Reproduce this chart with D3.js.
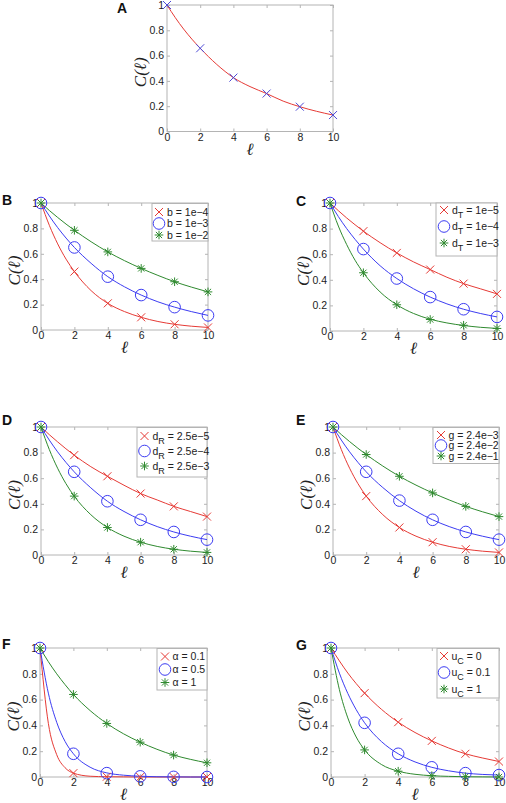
<!DOCTYPE html>
<html><head><meta charset="utf-8">
<script src="https://cdn.jsdelivr.net/npm/d3@7"></script>
<style>body{margin:0;background:#fff}svg{display:block}</style>
</head><body><svg id="c" width="506" height="803"></svg>
<script>
// ---------- data ----------
const xTicks = [0, 2, 4, 6, 8, 10];
const yTicks = [0, 0.2, 0.4, 0.6, 0.8, 1];
const yTickLabels = ["0", "0.2", "0.4", "0.6", "0.8", "1"];
const markL = [0, 2, 4, 6, 8, 10];
const lineL = [0, 0.5, 1, 1.5, 2, 3, 4, 5, 6, 7, 8, 9, 10];

const aMarks = [1, 0.658, 0.426, 0.30, 0.196, 0.13];
const aLine  = [1, 0.9, 0.81, 0.73, 0.658, 0.53, 0.426, 0.355, 0.30, 0.24, 0.196, 0.16, 0.13];

const bRedMarks   = [1, 0.46, 0.21, 0.10, 0.045, 0.02];
const bBlueMarks  = [1, 0.65, 0.42, 0.275, 0.18, 0.115];
const bGreenMarks = [1, 0.785, 0.615, 0.485, 0.38, 0.30];
const bRedLine    = [1, 0.824, 0.678, 0.558, 0.46, 0.31, 0.21, 0.145, 0.10, 0.067, 0.045, 0.03, 0.02];
const bBlueLine   = [1, 0.898, 0.806, 0.724, 0.65, 0.525, 0.42, 0.34, 0.275, 0.222, 0.18, 0.145, 0.115];
const bGreenLine  = [1, 0.941, 0.886, 0.834, 0.785, 0.695, 0.615, 0.546, 0.485, 0.43, 0.38, 0.338, 0.30];
const bLabels = ["b = 1e\u22124", "b = 1e\u22123", "b = 1e\u22122"];

const cRedMarks   = [1, 0.78, 0.61, 0.48, 0.37, 0.29];
const cBlueMarks  = [1, 0.64, 0.41, 0.265, 0.17, 0.11];
const cGreenMarks = [1, 0.455, 0.205, 0.09, 0.045, 0.02];
const cRedLine    = [1, 0.94, 0.883, 0.83, 0.78, 0.69, 0.61, 0.54, 0.48, 0.42, 0.37, 0.33, 0.29];
const cBlueLine   = [1, 0.894, 0.8, 0.716, 0.64, 0.51, 0.41, 0.33, 0.265, 0.212, 0.17, 0.137, 0.11];
const cGreenLine  = [1, 0.82, 0.675, 0.553, 0.455, 0.305, 0.205, 0.137, 0.092, 0.063, 0.043, 0.029, 0.02];
const cLabels = ["d_T = 1e\u22125", "d_T = 1e\u22124", "d_T = 1e\u22123"];

const dRedMarks   = [1, 0.78, 0.615, 0.48, 0.38, 0.30];
const dBlueMarks  = [1, 0.65, 0.42, 0.275, 0.18, 0.12];
const dGreenMarks = [1, 0.46, 0.215, 0.10, 0.045, 0.02];
const dRedLine    = [1, 0.94, 0.884, 0.83, 0.78, 0.69, 0.615, 0.545, 0.48, 0.43, 0.38, 0.34, 0.30];
const dBlueLine   = [1, 0.898, 0.806, 0.724, 0.65, 0.525, 0.42, 0.34, 0.275, 0.222, 0.18, 0.147, 0.12];
const dGreenLine  = [1, 0.824, 0.678, 0.558, 0.46, 0.315, 0.215, 0.147, 0.10, 0.067, 0.045, 0.03, 0.02];
const dLabels = ["d_R = 2.5e\u22125", "d_R = 2.5e\u22124", "d_R = 2.5e\u22123"];

const eRedMarks   = [1, 0.46, 0.215, 0.10, 0.045, 0.02];
const eBlueMarks  = [1, 0.65, 0.425, 0.275, 0.18, 0.12];
const eGreenMarks = [1, 0.785, 0.615, 0.485, 0.38, 0.30];
const eRedLine    = [1, 0.824, 0.678, 0.558, 0.46, 0.315, 0.215, 0.147, 0.10, 0.067, 0.045, 0.03, 0.02];
const eBlueLine   = [1, 0.898, 0.806, 0.724, 0.65, 0.527, 0.425, 0.342, 0.275, 0.222, 0.18, 0.147, 0.12];
const eGreenLine  = [1, 0.941, 0.886, 0.834, 0.785, 0.695, 0.615, 0.546, 0.485, 0.43, 0.38, 0.338, 0.30];
const eLabels = ["g = 2.4e\u22123", "g = 2.4e\u22122", "g = 2.4e\u22121"];

const fRedMarks   = [1, 0.03, 0.002, 0, 0, 0];
const fBlueMarks  = [1, 0.18, 0.03, 0.005, 0.001, 0];
const fGreenMarks = [1, 0.64, 0.415, 0.27, 0.17, 0.11];
const fRedLine    = [1, 0.416, 0.173, 0.072, 0.03, 0.006, 0.002, 0.001, 0, 0, 0, 0, 0];
const fBlueLine   = [1, 0.65, 0.424, 0.276, 0.18, 0.076, 0.032, 0.014, 0.006, 0.002, 0.001, 0, 0];
const fGreenLine  = [1, 0.894, 0.8, 0.716, 0.64, 0.515, 0.415, 0.335, 0.27, 0.215, 0.17, 0.137, 0.11];
const fLabels = ["\u03b1 = 0.1", "\u03b1 = 0.5", "\u03b1 = 1"];

const gRedMarks   = [1, 0.65, 0.425, 0.28, 0.18, 0.12];
const gBlueMarks  = [1, 0.42, 0.18, 0.075, 0.03, 0.015];
const gGreenMarks = [1, 0.21, 0.045, 0.01, 0.002, 0];
const gRedLine    = [1, 0.9, 0.806, 0.724, 0.65, 0.525, 0.425, 0.345, 0.28, 0.225, 0.18, 0.148, 0.12];
const gBlueLine   = [1, 0.805, 0.648, 0.522, 0.42, 0.275, 0.18, 0.117, 0.075, 0.048, 0.03, 0.02, 0.015];
const gGreenLine  = [1, 0.677, 0.458, 0.31, 0.21, 0.097, 0.045, 0.021, 0.01, 0.005, 0.002, 0.001, 0];
const gLabels = ["u_C = 0", "u_C = 0.1", "u_C = 1"];

// ---------- styles / layout ----------
const RED = "#e63b36", BLUE = "#3c3cf2", GREEN = "#2f8a2f", PURPLE = "#4d4ad6";
const FRAME = "#b4b4b4";

const panels = [
  {id:"A", left:167, top:5,   right:333, bottom:131.5, lx:117, ly:13,
   series:[{m:aMarks, l:aLine, c:RED, mc:PURPLE, sym:"x"}], labels:null},
  {id:"B", left:41,  top:203, right:208, bottom:330, lx:2, ly:205,
   series:[{m:bRedMarks,l:bRedLine,c:RED,sym:"x"},{m:bBlueMarks,l:bBlueLine,c:BLUE,sym:"o"},{m:bGreenMarks,l:bGreenLine,c:GREEN,sym:"*"}],
   labels:bLabels, leg:{x0:152, y0:203.5, y1:241, rows:[212,223.5,235], mx:159, tx:167}},
  {id:"C", left:330, top:203, right:497, bottom:331, lx:296, ly:206,
   series:[{m:cRedMarks,l:cRedLine,c:RED,sym:"x"},{m:cBlueMarks,l:cBlueLine,c:BLUE,sym:"o"},{m:cGreenMarks,l:cGreenLine,c:GREEN,sym:"*"}],
   labels:cLabels, leg:{x0:436, y0:203, y1:256, rows:[210,226.5,243], mx:444, tx:452}},
  {id:"D", left:41,  top:427, right:207, bottom:555, lx:2, ly:425,
   series:[{m:dRedMarks,l:dRedLine,c:RED,sym:"x"},{m:dBlueMarks,l:dBlueLine,c:BLUE,sym:"o"},{m:dGreenMarks,l:dGreenLine,c:GREEN,sym:"*"}],
   labels:dLabels, leg:{x0:137, y0:427.5, y1:477, rows:[436,451,466], mx:144.5, tx:152.5}},
  {id:"E", left:333, top:427, right:499, bottom:555, lx:296, ly:425,
   series:[{m:eRedMarks,l:eRedLine,c:RED,sym:"x"},{m:eBlueMarks,l:eBlueLine,c:BLUE,sym:"o"},{m:eGreenMarks,l:eGreenLine,c:GREEN,sym:"*"}],
   labels:eLabels, leg:{x0:433, y0:427.5, y1:463.5, rows:[435,445.5,456], mx:441, tx:448.5}},
  {id:"F", left:40,  top:648, right:207, bottom:777, lx:2, ly:649,
   series:[{m:fRedMarks,l:fRedLine,c:RED,sym:"x"},{m:fBlueMarks,l:fBlueLine,c:BLUE,sym:"o"},{m:fGreenMarks,l:fGreenLine,c:GREEN,sym:"*"}],
   labels:fLabels, leg:{x0:157, y0:648.5, y1:690, rows:[656.5,669.5,682.5], mx:165, tx:172.5}},
  {id:"G", left:331, top:648, right:499, bottom:777, lx:296, ly:650,
   series:[{m:gRedMarks,l:gRedLine,c:RED,sym:"x"},{m:gBlueMarks,l:gBlueLine,c:BLUE,sym:"o"},{m:gGreenMarks,l:gGreenLine,c:GREEN,sym:"*"}],
   labels:gLabels, leg:{x0:437, y0:648.5, y1:698, rows:[656,672.5,689], mx:444, tx:451.5}}
];

// ---------- drawing ----------
const svg = d3.select("#c");
const SANS = "Liberation Sans, Arial, Helvetica, sans-serif";
const SERIF = "Liberation Serif, DejaVu Serif, Times New Roman, serif";

function symPath(sym) {
  if (sym === "x") { const s = 4; return `M${-s},${-s}L${s},${s}M${-s},${s}L${s},${-s}`; }
  if (sym === "*") { const s = 4.3, t = 3.1; return `M0,${-s}L0,${s}M${-s},0L${s},0M${-t},${-t}L${t},${t}M${-t},${t}L${t},${-t}`; }
  return null;
}
function drawMarker(g, sym, color, x, y) {
  if (sym === "o") {
    g.append("circle").attr("cx", x).attr("cy", y).attr("r", 5.8)
      .attr("fill", "none").attr("stroke", color).attr("stroke-width", 1);
  } else {
    g.append("path").attr("transform", `translate(${x},${y})`).attr("d", symPath(sym))
      .attr("fill", "none").attr("stroke", color).attr("stroke-width", 1);
  }
}

panels.forEach(p => {
  const w = p.right - p.left, h = p.bottom - p.top;
  const x = d3.scaleLinear().domain([0, 10]).range([0, w]);
  const y = d3.scaleLinear().domain([0, 1]).range([h, 0]);
  const g = svg.append("g").attr("transform", `translate(${p.left},${p.top})`);

  // frame
  g.append("rect").attr("x", 0).attr("y", 0).attr("width", w).attr("height", h)
    .attr("fill", "none").attr("stroke", FRAME).attr("stroke-width", 1);

  const styleAxis = sel => {
    sel.select(".domain").remove();
    sel.selectAll(".tick line").attr("stroke", FRAME);
    sel.selectAll(".tick text").attr("fill", "#222").attr("font-family", SANS).attr("font-size", 10.5);
  };
  g.append("g").attr("transform", `translate(0,${h})`)
    .call(d3.axisBottom(x).tickValues(xTicks).tickSize(-3).tickPadding(2).tickFormat(d3.format("d")))
    .call(styleAxis);
  g.append("g")
    .call(d3.axisLeft(y).tickValues(yTicks).tickSize(-3).tickPadding(3).tickFormat((d, i) => yTickLabels[i]))
    .call(styleAxis);
  g.append("g").call(d3.axisTop(x).tickValues(xTicks).tickSize(-3).tickFormat("")).call(styleAxis);
  g.append("g").attr("transform", `translate(${w},0)`)
    .call(d3.axisRight(y).tickValues(yTicks).tickSize(-3).tickFormat("")).call(styleAxis);

  // lines
  const line = d3.line().x((d, i) => x(lineL[i])).y(d => y(d)).curve(d3.curveMonotoneX);
  p.series.forEach(s => {
    g.append("path").datum(s.l).attr("d", line)
      .attr("fill", "none").attr("stroke", s.c).attr("stroke-width", 1);
  });
  // markers
  p.series.forEach(s => {
    s.m.forEach((v, i) => drawMarker(g, s.sym, s.mc || s.c, x(markL[i]), y(v)));
  });

  // axis labels
  g.append("text").attr("transform", `translate(-27,${h / 2 + 4}) rotate(-90)`)
    .attr("text-anchor", "middle").attr("dominant-baseline", "central")
    .attr("font-family", SERIF).attr("font-style", "italic").attr("font-size", 17).attr("fill", "#222")
    .text("C(\u2113)");
  g.append("text").attr("x", w / 2).attr("y", h + 23).attr("text-anchor", "middle")
    .attr("font-family", SERIF).attr("font-style", "italic").attr("font-size", 17).attr("fill", "#222")
    .text("\u2113");

  // panel letter
  svg.append("text").attr("x", p.lx).attr("y", p.ly).attr("font-family", SANS)
    .attr("font-weight", "bold").attr("font-size", 14).attr("fill", "#111").text(p.id);

  // legend
  if (p.labels) {
    const L = p.leg;
    svg.append("rect").attr("x", L.x0).attr("y", L.y0).attr("width", p.right - L.x0).attr("height", L.y1 - L.y0)
      .attr("fill", "#fff").attr("stroke", FRAME).attr("stroke-width", 1);
    p.labels.forEach((lab, i) => {
      const s = p.series[i];
      drawMarker(svg, s.sym, s.c, L.mx, L.rows[i]);
      const t = svg.append("text").attr("x", L.tx).attr("y", L.rows[i]).attr("dy", "0.35em")
        .attr("font-family", SANS).attr("font-size", 10.5).attr("fill", "#222");
      const m = lab.match(/^(.*?)_(\S)(.*)$/);
      if (m) {
        t.append("tspan").text(m[1]);
        t.append("tspan").attr("dy", 4).attr("font-size", 9).text(m[2]);
        t.append("tspan").attr("dy", -4).text(m[3]);
      } else {
        t.text(lab);
      }
    });
  }
});
</script>
</body></html>
